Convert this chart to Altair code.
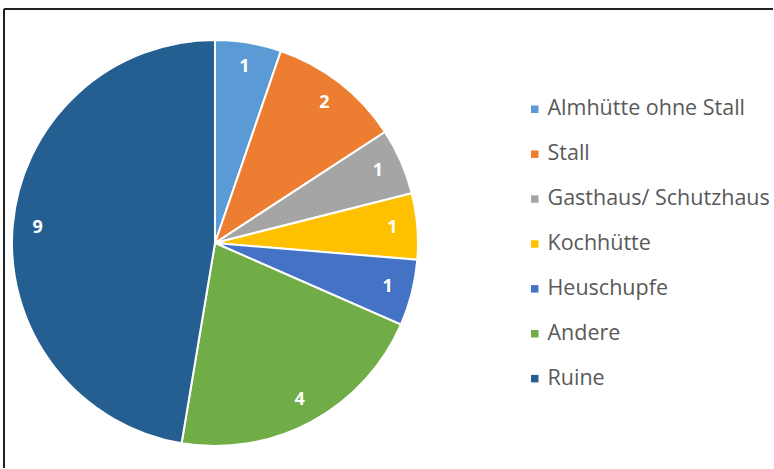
import altair as alt
import pandas as pd

categories = ["Almhütte ohne Stall", "Stall", "Gasthaus/ Schutzhaus", "Kochhütte", "Heuschupfe", "Andere", "Ruine"]
values = [1, 2, 1, 1, 1, 4, 9]
colors = ["#5B9BD5", "#ED7D31", "#A5A5A5", "#FFC000", "#4472C4", "#70AD47", "#255E91"]

df = pd.DataFrame({"Kategorie": categories, "Anzahl": values, "idx": list(range(len(categories)))})

CX, CY, R = 211, 234, 203

base = alt.Chart(df).encode(
    theta=alt.Theta("Anzahl:Q", stack=True),
    order=alt.Order("idx:O"),
)

arcs = base.mark_arc(radius=R, stroke="white", strokeWidth=2).encode(
    x=alt.value(CX), y=alt.value(CY),
    color=alt.Color(
        "Kategorie:N",
        scale=alt.Scale(domain=categories, range=colors),
        sort=categories,
        legend=alt.Legend(
            title=None, orient="none", legendX=520, legendY=89.5,
            symbolType="square", symbolSize=56, symbolStrokeWidth=0,
            labelFont="Open Sans", labelFontSize=21.5, labelColor="#595959",
            rowPadding=21.9, labelOffset=2, labelLimit=400,
        ),
    ),
)

labels = base.mark_text(radius=178, font="Open Sans", fontSize=18, fontWeight="bold", color="white").encode(
    x=alt.value(CX), y=alt.value(CY),
    text="Anzahl:Q",
)

frame_top = alt.Chart(df).mark_rule(color="#222222", strokeWidth=1.5).encode(
    x=alt.value(0), x2=alt.value(800), y=alt.value(0)
)
frame_left = alt.Chart(df).mark_rule(color="#222222", strokeWidth=1.5).encode(
    x=alt.value(0), y=alt.value(0), y2=alt.value(500)
)

chart = alt.layer(arcs, labels, frame_top, frame_left).properties(
    width=769, height=459,
    autosize=alt.AutoSizeParams(type="none"),
    padding={"left": 4, "top": 9, "right": 0, "bottom": 0},
).configure_view(stroke=None).configure(background="white")

chart.save("out.html", embed_options={"renderer": "svg", "actions": False})
